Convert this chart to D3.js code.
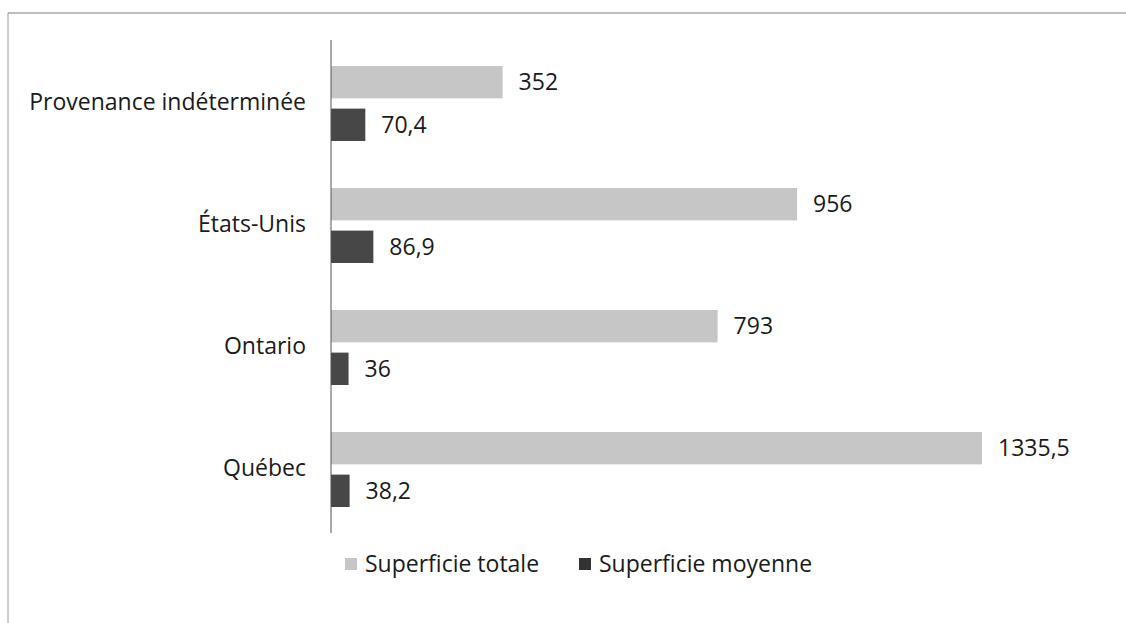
<!DOCTYPE html>
<html>
<head>
<meta charset="utf-8">
<script src="https://cdn.jsdelivr.net/npm/d3@7"></script>
<style>
  body { margin: 0; background: #fff; }
</style>
</head>
<body>
<script>
const categories = ["Provenance indéterminée", "États-Unis", "Ontario", "Québec"];
const seriesNames = ["Superficie totale", "Superficie moyenne"];
const totale = [352, 956, 793, 1335.5];
const moyenne = [70.4, 86.9, 36, 38.2];
const valueLabels = [["352", "70,4"], ["956", "86,9"], ["793", "36"], ["1335,5", "38,2"]];

const canvWidth = 1126, canvHeight = 623;
const colors = ["#c6c6c6", "#474747"];
const font = "'Open Sans', sans-serif";
const fontSize = "23px";

const svg = d3.select("body").append("svg")
    .attr("width", canvWidth)
    .attr("height", canvHeight);

// frame (top and left edges visible)
svg.append("line")
    .attr("x1", 8).attr("x2", canvWidth).attr("y1", 13).attr("y2", 13)
    .attr("stroke", "#a8a8a8").attr("stroke-width", 1.5);
svg.append("line")
    .attr("x1", 8).attr("x2", 8).attr("y1", 13).attr("y2", canvHeight)
    .attr("stroke", "#9a9a9a").attr("stroke-width", 1);

const xScale = d3.scaleLinear().domain([0, 1400]).range([331, 331 + 1400 * 0.4875]);
const yScale = d3.scaleBand().domain(categories).range([42, 530]);
const inner = d3.scaleBand().domain(seriesNames).range([24, 99]).paddingInner(0.24);

const rows = categories.map((c, i) => ({
    cat: c,
    vals: [totale[i], moyenne[i]],
    labels: valueLabels[i]
}));

const groups = svg.append("g").selectAll("g")
    .data(rows)
    .enter().append("g")
    .attr("transform", d => `translate(0,${yScale(d.cat)})`);

groups.selectAll("rect")
    .data(d => d.vals.map((v, j) => ({v, j, s: seriesNames[j]})))
    .enter().append("rect")
    .attr("x", xScale(0))
    .attr("y", d => inner(d.s))
    .attr("width", d => xScale(d.v) - xScale(0))
    .attr("height", inner.bandwidth())
    .attr("fill", d => colors[d.j]);

groups.selectAll("text.val")
    .data(d => d.vals.map((v, j) => ({v, j, s: seriesNames[j], lab: d.labels[j]})))
    .enter().append("text")
    .attr("class", "val")
    .attr("x", d => xScale(d.v) + 16)
    .attr("y", d => inner(d.s) + inner.bandwidth() / 2)
    .attr("dy", "0.35em")
    .attr("font-family", font)
    .attr("font-size", fontSize)
    .attr("fill", "#1a1a1a")
    .text(d => d.lab);

// category axis
const yAxis = d3.axisLeft(yScale).tickSize(0).tickPadding(25);
const axisG = svg.append("g")
    .attr("transform", `translate(${xScale(0)},0)`)
    .call(yAxis);
axisG.select(".domain")
    .attr("d", `M0,40V533`)
    .attr("stroke", "#555")
    .attr("stroke-width", 1);
axisG.selectAll("text")
    .attr("font-family", font)
    .attr("font-size", fontSize)
    .attr("fill", "#1a1a1a");

// legend
const legendItems = [{x: 345, name: seriesNames[0]}, {x: 579, name: seriesNames[1]}];
const legend = svg.append("g").attr("id", "legend");
legend.selectAll("rect")
    .data(legendItems)
    .enter().append("rect")
    .attr("x", d => d.x)
    .attr("y", 558)
    .attr("width", 12)
    .attr("height", 12)
    .attr("fill", (d, i) => i === 0 ? colors[0] : "#333");
legend.selectAll("text")
    .data(legendItems)
    .enter().append("text")
    .attr("x", d => d.x + 20)
    .attr("y", 564)
    .attr("dy", "0.35em")
    .attr("font-family", font)
    .attr("font-size", fontSize)
    .attr("fill", "#1a1a1a")
    .text(d => d.name);
</script>
</body>
</html>
